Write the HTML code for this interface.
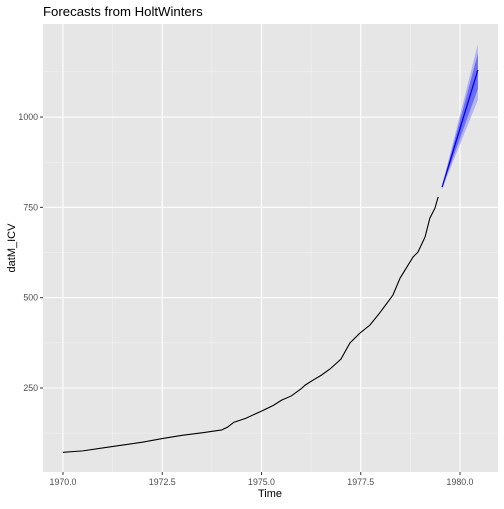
<!DOCTYPE html>
<html><head><meta charset="utf-8"><style>
body{margin:0;background:#fff;font-family:"Liberation Sans",sans-serif}
</style></head><body>
<svg id="chart" width="504" height="504" xmlns="http://www.w3.org/2000/svg"></svg>
<script>
const histTimes=[1970,1970.5,1971,1971.5,1972,1972.5,1973,1973.5,1974,1974.15,1974.3,1974.6,1975,1975.3,1975.5,1975.75,1976,1976.1,1976.3,1976.5,1976.73,1977,1977.23,1977.48,1977.73,1977.98,1978.31,1978.49,1978.82,1978.94,1979.12,1979.24,1979.37,1979.45];
const histValues=[72,76,84,92,100,110,119,126,134,142,155,166,186,202,216,228,248,258,272,285,303,330,375,402,424,458,507,554,613,626,668,720,748,779];
const fcTimes=[1979.55,1980.45];
const fcMean=[806,1130];
const lo80=[804,1078];const hi80=[808,1175];
const lo95=[802,1047];const hi95=[810,1202];
const xTicks=[1970,1972.5,1975,1977.5,1980];
const xTickLabels=["1970.0","1972.5","1975.0","1977.5","1980.0"];
const yTicks=[250,500,750,1000];
const yTickLabels=["250","500","750","1000"];
const L=43,R=498,T=24,B=472;
const X=t=>63+(t-1970)*39.7;
const Y=v=>388-(v-250)*0.3613;
const svg=document.getElementById('chart');
const NS='http://www.w3.org/2000/svg';
function mk(tag,attrs){const e=document.createElementNS(NS,tag);for(const k in attrs)e.setAttribute(k,attrs[k]);svg.appendChild(e);return e;}
let e=mk('rect',{x:L,y:T,width:R-L,height:B-T,fill:'#e6e6e6'});


for(let i=0;i<xTicks.length+1;i++){const t=1970-1.25+i*2.5;const x=X(t);if(x>L&&x<R){e=mk('line',{x1:x,x2:x,y1:T,y2:B,stroke:'#f2f2f2','stroke-width':0.5});}}
for(let v=125;v<=1250;v+=250){const y=Y(v);if(y>T&&y<B){e=mk('line',{x1:L,x2:R,y1:y,y2:y,stroke:'#f2f2f2','stroke-width':0.5});}}
xTicks.forEach((t,i)=>{const x=X(t);
e=mk('line',{x1:x,x2:x,y1:T,y2:B,stroke:'#fff','stroke-width':1.1});
e=mk('line',{x1:x,x2:x,y1:B,y2:B+3,stroke:'#333','stroke-width':1});
e=mk('text',{x:x,y:B+13,'text-anchor':'middle','font-size':'8.8px',fill:'#4d4d4d'});e.textContent=xTickLabels[i];});
yTicks.forEach((v,i)=>{const y=Y(v);
e=mk('line',{x1:L,x2:R,y1:y,y2:y,stroke:'#fff','stroke-width':1.1});
e=mk('line',{x1:L-3,x2:L,y1:y,y2:y,stroke:'#333','stroke-width':1});
e=mk('text',{x:L-5,y:y+3,'text-anchor':'end','font-size':'8.8px',fill:'#4d4d4d'});e.textContent=yTickLabels[i];});
function band(lo,hi,col,name){let d='';fcTimes.forEach((t,i)=>{d+=(i?'L':'M')+X(t)+','+Y(hi[i]);});for(let i=fcTimes.length-1;i>=0;i--)d+='L'+X(fcTimes[i])+','+Y(lo[i]);d+='Z';
e=mk('path',{d:d,fill:col});}
band(lo95,hi95,'#b3b3f2','band-95');
band(lo80,hi80,'#6d6df0','band-80');
e=mk('polyline',{points:fcTimes.map((t,i)=>X(t)+','+Y(fcMean[i])).join(' '),fill:'none',stroke:'#0000ff','stroke-width':1.3});

e=mk('polyline',{points:histTimes.map((t,i)=>X(t)+','+Y(histValues[i])).join(' '),fill:'none',stroke:'#000','stroke-width':1.1});

e=mk('text',{x:270,y:497,'text-anchor':'middle','font-size':'11px',fill:'#000'});e.textContent='Time';
e=mk('text',{x:0,y:0,'text-anchor':'middle','font-size':'11px',fill:'#000',transform:'translate(15,248) rotate(-90)'});e.textContent='datM_ICV';
e=mk('text',{x:43,y:16,'font-size':'13.2px',fill:'#000'});e.textContent='Forecasts from HoltWinters';
</script>
</body></html>
